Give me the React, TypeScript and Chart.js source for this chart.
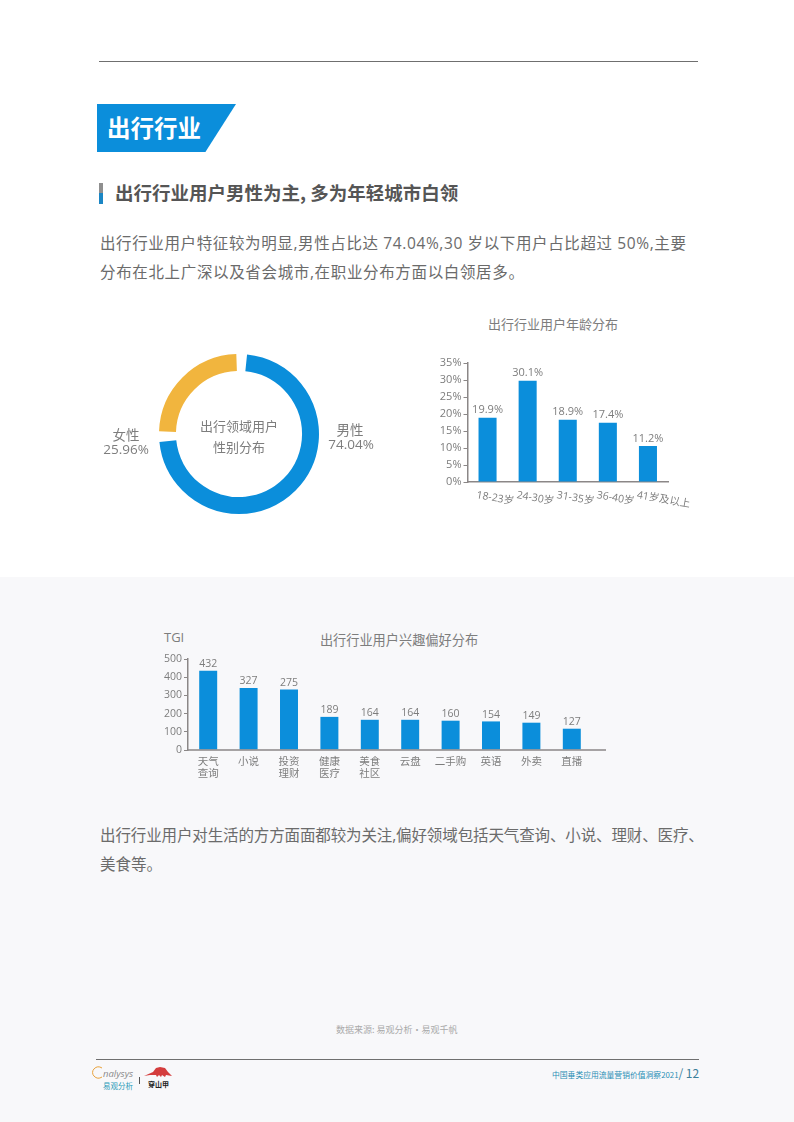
import React, { useEffect, useRef } from "react";
import { Chart, registerables } from "chart.js";

Chart.register(...registerables);

const FONT = '"Open Sans", "Noto Sans CJK SC", sans-serif';
const CJK = '"Noto Sans CJK SC", "Open Sans", sans-serif';
const GREY = "#7d7d7d";
const AXIS = "#8b8787";
const BLUE = "#0b8edb";
const YELLOW = "#f1b53e";

const genderLabels = ["男性", "女性"];
const genderPrinted = ["74.04%", "25.96%"];
const genderArcValues = [75, 25];

const ageCategories = ["18-23岁", "24-30岁", "31-35岁", "36-40岁", "41岁及以上"];
const ageBarValues = [18.9, 29.8, 18.3, 17.4, 10.6];
const ageLabels = ["19.9%", "30.1%", "18.9%", "17.4%", "11.2%"];

const interestCategories = [["天气", "查询"], ["小说"], ["投资", "理财"], ["健康", "医疗"], ["美食", "社区"], ["云盘"], ["二手购"], ["英语"], ["外卖"], ["直播"]];
const interestBarValues = [436, 341, 332, 182, 166, 166, 161, 157, 150, 117];
const interestLabels = ["432", "327", "275", "189", "164", "164", "160", "154", "149", "127"];

const valueLabelPlugin = (labels: string[], font: string, gap: number) => ({
  id: "valueLabels",
  afterDatasetsDraw(chart: any) {
    const { ctx } = chart;
    const meta = chart.getDatasetMeta(0);
    ctx.save();
    ctx.font = font;
    ctx.fillStyle = GREY;
    ctx.textAlign = "center";
    ctx.textBaseline = "middle";
    meta.data.forEach((bar: any, i: number) => ctx.fillText(labels[i], bar.x, bar.y - gap));
    ctx.restore();
  },
});

function DoughnutChart() {
  const ref = useRef<HTMLCanvasElement>(null);
  useEffect(() => {
    const chart = new Chart(ref.current!, {
      type: "doughnut",
      data: {
        labels: genderLabels,
        datasets: [{ data: genderArcValues, backgroundColor: [BLUE, YELLOW], borderWidth: 0, spacing: 6 }],
      },
      options: {
        responsive: false,
        animation: false,
        cutout: "78%",
        radius: 77,
        layout: { padding: 0 },
        plugins: { legend: { display: false }, tooltip: { enabled: false } },
      },
      plugins: [
        {
          id: "doughnutText",
          afterDraw(c: any) {
            const { ctx } = c;
            const cx = (c.chartArea.left + c.chartArea.right) / 2;
            const cy = (c.chartArea.top + c.chartArea.bottom) / 2;
            ctx.save();
            ctx.textAlign = "center";
            ctx.textBaseline = "middle";
            ctx.fillStyle = GREY;
            ctx.font = `13px ${CJK}`;
            ctx.fillText("出行领域用户", cx, cy - 8);
            ctx.fillText("性别分布", cx, cy + 13.5);
            ctx.font = `13.5px ${FONT}`;
            ctx.fillText(genderLabels[0], cx + 111, cy - 2.5);
            ctx.fillText(genderPrinted[0], cx + 112, cy + 11.5);
            ctx.fillText(genderLabels[1], cx - 113, cy + 2);
            ctx.fillText(genderPrinted[1], cx - 113, cy + 16);
            ctx.restore();
          },
        },
      ],
    } as any);
    return () => chart.destroy();
  }, []);
  return <canvas ref={ref} width={300} height={200} style={{ position: "absolute", left: 89, top: 334, width: 300, height: 200 }} />;
}

function AgeChart() {
  const ref = useRef<HTMLCanvasElement>(null);
  useEffect(() => {
    const chart = new Chart(ref.current!, {
      type: "bar",
      data: {
        labels: ageCategories,
        datasets: [{ data: ageBarValues, backgroundColor: BLUE, barPercentage: 0.45, categoryPercentage: 1 }],
      },
      options: {
        responsive: false,
        animation: false,
        layout: { padding: { top: 33, right: 32, left: 16, bottom: 0 } },
        plugins: { legend: { display: false }, tooltip: { enabled: false } },
        scales: {
          x: {
            grid: { display: false },
            border: { color: AXIS, width: 1.5 },
            ticks: { display: false },
            afterFit(s: any) { s.height = 48; },
          },
          y: {
            min: 0,
            max: 35,
            grid: { drawOnChartArea: false, drawTicks: true, tickLength: 4, color: AXIS },
            border: { color: AXIS, width: 1.5 },
            ticks: { stepSize: 5, padding: 2, color: GREY, font: { family: FONT, size: 11 }, callback: (v: any) => `${v}%` },
            afterFit(s: any) { s.width = 31.5; },
          },
        },
      },
      plugins: [
        valueLabelPlugin(ageLabels, `11px ${FONT}`, 7.5),
        {
          id: "slantedTicks",
          afterDraw(c: any) {
            const { ctx, scales } = c;
            ctx.save();
            ctx.font = `10.5px ${FONT}`;
            ctx.fillStyle = GREY;
            ctx.textAlign = "left";
            ctx.textBaseline = "middle";
            ageCategories.forEach((label, i) => {
              ctx.save();
              ctx.translate(scales.x.getPixelForTick(i) - 11, scales.x.top + 13);
              ctx.rotate((10 * Math.PI) / 180);
              ctx.fillText(label, 0, 0);
              ctx.restore();
            });
            ctx.restore();
          },
        },
      ],
    } as any);
    return () => chart.destroy();
  }, []);
  return <canvas ref={ref} width={280} height={200} style={{ position: "absolute", left: 420, top: 330, width: 280, height: 200 }} />;
}

function InterestChart() {
  const ref = useRef<HTMLCanvasElement>(null);
  useEffect(() => {
    const chart = new Chart(ref.current!, {
      type: "bar",
      data: {
        labels: interestCategories,
        datasets: [{ data: interestBarValues, backgroundColor: BLUE, barPercentage: 0.445, categoryPercentage: 1 }],
      },
      options: {
        responsive: false,
        animation: false,
        layout: { padding: { top: 34, right: 38, left: 8, bottom: 0 } },
        plugins: { legend: { display: false }, tooltip: { enabled: false } },
        scales: {
          x: {
            grid: { display: false },
            border: { display: false },
            ticks: { padding: -3, color: GREY, autoSkip: false, maxRotation: 0, minRotation: 0, font: { family: CJK, size: 10.5, lineHeight: 1.15 } },
            afterFit(s: any) { s.height = 40; },
          },
          y: {
            min: 0,
            max: 500,
            grid: { drawOnChartArea: false, drawTicks: true, tickLength: 4, color: AXIS },
            border: { color: AXIS, width: 1.5 },
            ticks: { stepSize: 100, padding: 2, color: GREY, font: { family: FONT, size: 10.5 } },
            afterFit(s: any) { s.width = 30; },
          },
        },
      },
      plugins: [
        valueLabelPlugin(interestLabels, `10.5px ${FONT}`, 6.5),
        {
          id: "longBaseline",
          afterDatasetsDraw(c: any) {
            const { ctx, chartArea } = c;
            ctx.save();
            ctx.strokeStyle = AXIS;
            ctx.lineWidth = 1.5;
            ctx.beginPath();
            ctx.moveTo(chartArea.left, chartArea.bottom);
            ctx.lineTo(chartArea.right + 14, chartArea.bottom);
            ctx.stroke();
            ctx.restore();
          },
        },
      ],
    } as any);
    return () => chart.destroy();
  }, []);
  return <canvas ref={ref} width={480} height={165} style={{ position: "absolute", left: 150, top: 625, width: 480, height: 165 }} />;
}

const abs = (left: number, centerY: number, style: React.CSSProperties = {}): React.CSSProperties => ({
  position: "absolute",
  left,
  top: centerY,
  transform: "translateY(-50%)",
  whiteSpace: "nowrap",
  fontFamily: FONT,
  ...style,
});

const bodyStyle = (letterSpacing: number): React.CSSProperties => ({ fontSize: 15.5, color: "#6b6b6b", letterSpacing });

export default function App() {
  return (
    <div style={{ position: "fixed", left: 0, top: 0, width: 794, height: 1122, background: "#fff", overflow: "hidden" }}>
      <div style={{ position: "absolute", left: 0, top: 577, width: 794, height: 545, background: "#f8f8fa" }} />
      <div style={{ position: "absolute", left: 99, top: 61, width: 599, height: 1, background: "#6f6f6f" }} />

      <div style={{ position: "absolute", left: 97, top: 104, width: 139, height: 48, background: BLUE, clipPath: "polygon(0 0, 100% 0, 78% 100%, 0 100%)" }} />
      <div style={abs(107, 126.5, { fontSize: 23.5, fontWeight: 700, color: "#fff", fontFamily: CJK })}>出行行业</div>

      <div style={{ position: "absolute", left: 99, top: 183, width: 4, height: 21, background: "linear-gradient(#8f8f8f 50%, #1b86c4 50%)" }} />
      <div style={abs(115, 192, { fontSize: 18.5, fontWeight: 700, color: "#555", fontFamily: CJK })}>出行行业用户男性为主, 多为年轻城市白领</div>

      <div style={abs(100, 242, bodyStyle(0.62))}>出行行业用户特征较为明显,男性占比达 74.04%,30 岁以下用户占比超过 50%,主要</div>
      <div style={abs(100, 271, bodyStyle(0.65))}>分布在北上广深以及省会城市,在职业分布方面以白领居多。</div>

      <DoughnutChart />
      <div style={{ ...abs(553, 322.5, { fontSize: 13, color: GREY, fontFamily: CJK }), transform: "translate(-50%,-50%)" }}>出行行业用户年龄分布</div>
      <AgeChart />

      <div style={abs(164, 637, { fontSize: 13, color: GREY })}>TGI</div>
      <div style={{ ...abs(399, 639, { fontSize: 13.2, color: GREY, fontFamily: CJK }), transform: "translate(-50%,-50%)" }}>出行行业用户兴趣偏好分布</div>
      <InterestChart />

      <div style={abs(100, 834, bodyStyle(-0.12))}>出行行业用户对生活的方方面面都较为关注,偏好领域包括天气查询、小说、理财、医疗、</div>
      <div style={abs(100, 863, bodyStyle(0))}>美食等。</div>

      <div style={abs(336, 1028.5, { fontSize: 9, color: "#aaa", fontFamily: CJK })}>数据来源: 易观分析·易观千帆</div>
      <div style={{ position: "absolute", left: 96, top: 1059, width: 603, height: 1, background: "#6f6f6f" }} />

      <svg width={110} height={34} style={{ position: "absolute", left: 90, top: 1062 }}>
        <path d="M12 6 A6 5.5 0 1 0 12 15" fill="none" stroke="#e9a23b" strokeWidth={1} />
        <rect x={49} y={15} width={1} height={7} fill="#555" />
        <polygon points="54,14 63,10 66,6 70,5 75,6 78,10 82,14 76,13 75,15 72,13 71,15 69,13 67,15 66,13 60,13" fill="#d43d3d" />
      </svg>
      <div style={abs(103, 1073, { fontSize: 9.5, fontStyle: "italic", color: "#8a8a8a" })}>nalysys</div>
      <div style={abs(103, 1085, { fontSize: 7.5, color: "#2a9ab8", fontFamily: CJK })}>易观分析</div>
      <div style={abs(148, 1084, { fontSize: 7, fontWeight: 700, color: "#222", fontFamily: CJK })}>穿山甲</div>
      <div style={abs(552, 1072, { fontSize: 7.8, color: "#2a8fb5", fontFamily: CJK })}>
        中国垂类应用流量营销价值洞察2021<span style={{ fontSize: 12, color: "#3b7f9a" }}>/ 12</span>
      </div>
    </div>
  );
}
